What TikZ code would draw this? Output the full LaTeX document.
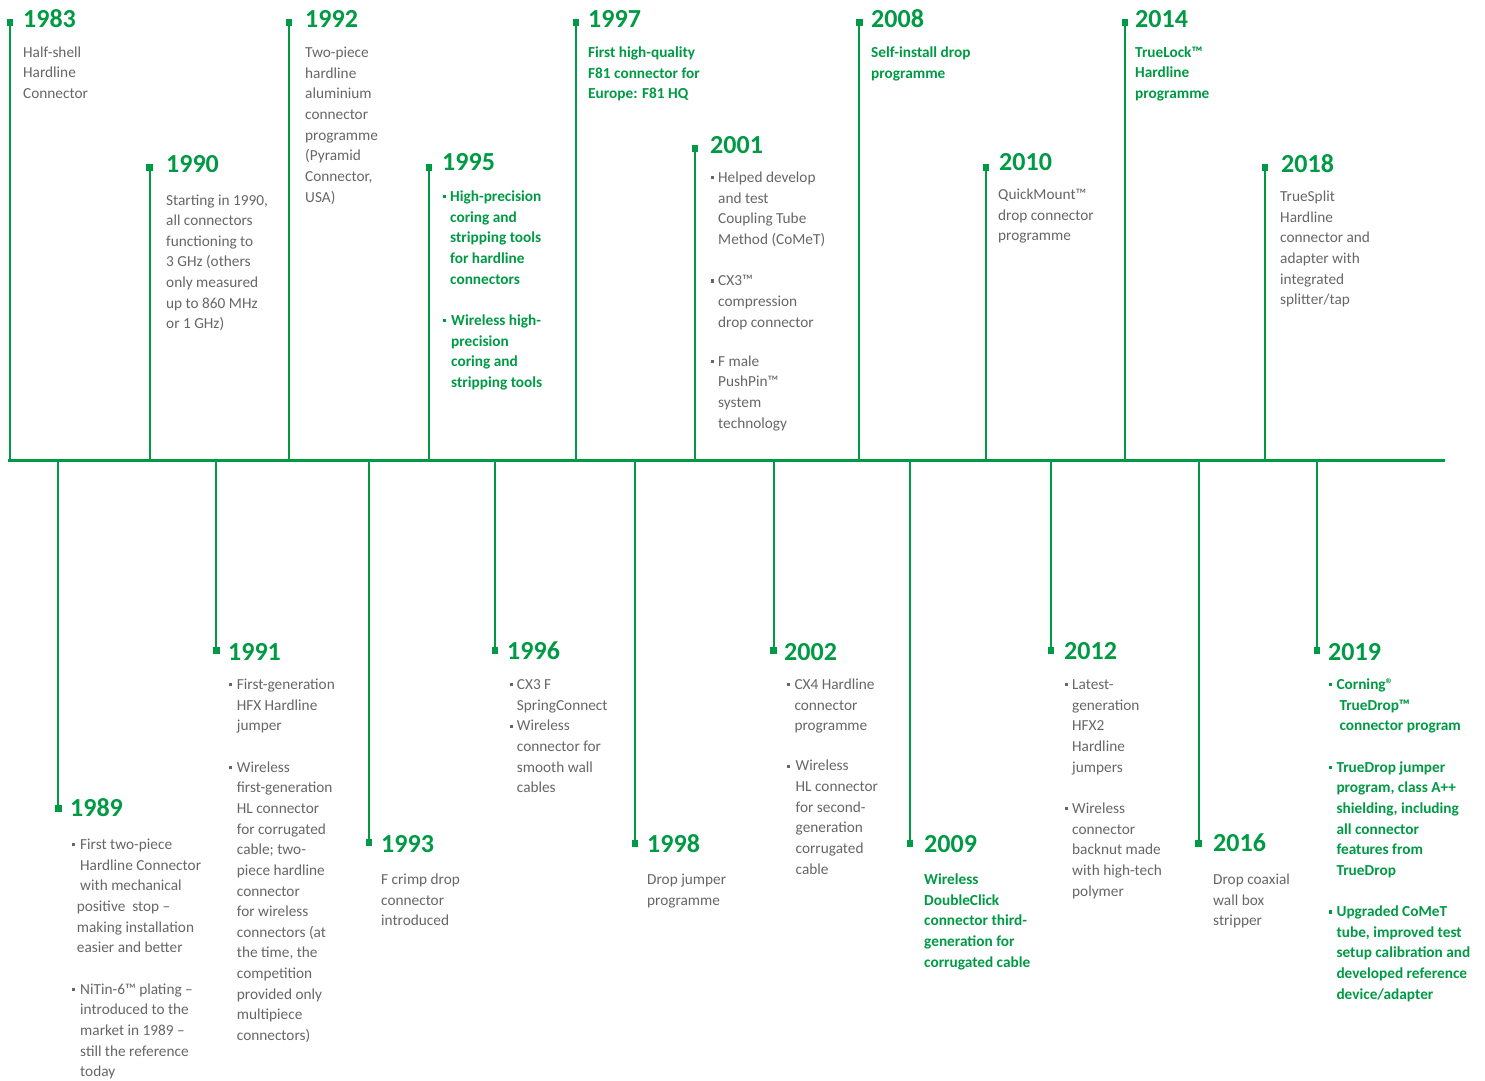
\documentclass[tikz,border=0pt]{standalone}
\usepackage{fontspec}
\setmainfont{Carlito}
\definecolor{cgreen}{RGB}{0,154,68}
\definecolor{cgray}{RGB}{102,102,102}
\newcommand\bodyfont{\fontsize{15.3}{20.65}\selectfont}
\newcommand\bl[1][7.8pt]{\makebox[#1][l]{\rule[3.1pt]{3.2pt}{3.2pt}}}
\newcommand\ind[1][7.8pt]{\hspace*{#1}}
\newcommand\tl[1]{\parbox[t]{240pt}{\raggedright #1}}
\tikzset{
  mainline/.style={line width=3.6pt, draw=cgreen},
  stem/.style={line width=1.8pt, draw=cgreen},
  marker/.style={rectangle, fill=cgreen, draw=none, minimum size=6.6pt, inner sep=0pt, outer sep=0pt},
  year/.style={anchor=base west, inner sep=0pt, text=cgreen, font=\fontsize{26}{30}\selectfont\bfseries},
  body/.style={anchor=base west, inner sep=0pt, text=cgray, font=\bodyfont},
  gbody/.style={anchor=base west, inner sep=0pt, text=cgreen, font=\bodyfont\bfseries},
}
\begin{document}
\begin{tikzpicture}[x=1pt,y=-1pt]
\useasboundingbox (0,0) rectangle (1485,1080);
% main line
\coordinate (L) at (8,460.5);
\coordinate (R) at (1445,460.5);
% ---------- markers ----------
% top
\node[marker] (m1983) at (10,22.3) {};
\node[marker] (m1990) at (149.7,167.5) {};
\node[marker] (m1992) at (289,22.3) {};
\node[marker] (m1995) at (429,167.5) {};
\node[marker] (m1997) at (576,22.3) {};
\node[marker] (m2001) at (695,148.3) {};
\node[marker] (m2008) at (859.3,22.3) {};
\node[marker] (m2010) at (986,167.5) {};
\node[marker] (m2014) at (1125,22.3) {};
\node[marker] (m2018) at (1265,167.5) {};
% bottom
\node[marker] (m1989) at (58.3,808.3) {};
\node[marker] (m1991) at (216.3,650.3) {};
\node[marker] (m1993) at (369,842.7) {};
\node[marker] (m1996) at (495,650.5) {};
\node[marker] (m1998) at (635,843.3) {};
\node[marker] (m2002) at (773.7,650.5) {};
\node[marker] (m2009) at (910,843.5) {};
\node[marker] (m2012) at (1051,650.5) {};
\node[marker] (m2016) at (1198.7,843.3) {};
\node[marker] (m2019) at (1317,650.5) {};
% stems
\foreach \n in {1983,1990,1992,1995,1997,2001,2008,2010,2014,2018,1989,1991,1993,1996,1998,2002,2009,2012,2016,2019}
  \draw[stem] (m\n.center) -- (m\n.center |- L);
\draw[mainline] (L) -- (R);
% ---------- years ----------
\node[year] (y1983) at (23,27) {1983};
\node[year] (y1990) at (166,172.5) {1990};
\node[year] (y1992) at (305,27) {1992};
\node[year] (y1995) at (442,170) {1995};
\node[year] (y1997) at (588,27) {1997};
\node[year] (y2001) at (710,153) {2001};
\node[year] (y2008) at (871,27) {2008};
\node[year] (y2010) at (999,170) {2010};
\node[year] (y2014) at (1135,27) {2014};
\node[year] (y2018) at (1281,172) {2018};
\node[year] (y1989) at (70,816.5) {1989};
\node[year] (y1991) at (228,660) {1991};
\node[year] (y1993) at (381,852) {1993};
\node[year] (y1996) at (507,659.5) {1996};
\node[year] (y1998) at (647,852) {1998};
\node[year] (y2002) at (784,660) {2002};
\node[year] (y2009) at (924,852.5) {2009};
\node[year] (y2012) at (1064,659.5) {2012};
\node[year] (y2016) at (1213,851.7) {2016};
\node[year] (y2019) at (1328,660) {2019};
% ---------- texts, top ----------
\node[body] (t1983) at (23,57) {\tl{Half-shell\\Hardline\\Connector}};
\node[body] (t1990) at (166,205) {\tl{Starting in 1990,\\all connectors\\functioning to\\3 GHz (others\\only measured\\up to 860 MHz\\or 1 GHz)}};
\node[body] (t1992) at (305,57.5) {\tl{Two-piece\\hardline\\aluminium\\connector\\programme\\(Pyramid\\Connector,\\USA)}};
\node[gbody] (t1995) at (442.5,201.5) {\tl{\bl[7.5pt]High-precision\\\ind[7.5pt]coring and\\\ind[7.5pt]stripping tools\\\ind[7.5pt]for hardline\\\ind[7.5pt]connectors\\[20.65pt]\bl[8.5pt]Wireless high-\\\ind[8.5pt]precision\\\ind[8.5pt]coring and\\\ind[8.5pt]stripping tools}};
\node[gbody] (t1997) at (588,57.5) {\tl{First high-quality\\F81 connector for\\Europe: F81 HQ}};
\node[body] (t2001) at (710.5,182.5) {\tl{\bl[7.5pt]Helped develop\\\ind[7.5pt]and test\\\ind[7.5pt]Coupling Tube\\\ind[7.5pt]Method (CoMeT)\\[20.65pt]\bl[7.5pt]CX3™\\\ind[7.5pt]compression\\\ind[7.5pt]drop connector\\[18.5pt]\bl[7.5pt]F male\\\ind[7.5pt]PushPin™\\\ind[7.5pt]system\\\ind[7.5pt]technology}};
\node[gbody] (t2008) at (871,57.5) {\tl{Self-install drop\\programme}};
\node[body] (t2010) at (998,199.5) {\tl{QuickMount™\\drop connector\\programme}};
\node[gbody] (t2014) at (1135,57) {\tl{TrueLock™\\Hardline\\programme}};
\node[body] (t2018) at (1280,201.5) {\tl{TrueSplit\\Hardline\\connector and\\adapter with\\integrated\\splitter/tap}};
% ---------- texts, bottom ----------
\node[body] (t1989) at (72,849.5) {\tl{\bl[8pt]First two-piece\\\ind[8pt]Hardline Connector\\\ind[8pt]with mechanical\\\ind[4.7pt]positive\ \ stop –\\\ind[4.7pt]making installation\\\ind[4.7pt]easier and better\\[20.65pt]\bl[8pt]NiTin-6™ plating –\\\ind[8pt]introduced to the\\\ind[8pt]market in 1989 –\\\ind[8pt]still the reference\\\ind[8pt]today}};
\node[body] (t1991) at (228.7,689.5) {\tl{\bl[8pt]First-generation\\\ind[8pt]HFX Hardline\\\ind[8pt]jumper\\[20.65pt]\bl[8pt]Wireless\\\ind[8pt]first-generation\\\ind[8pt]HL connector\\\ind[8pt]for corrugated\\\ind[8pt]cable; two-\\\ind[8pt]piece hardline\\\ind[8pt]connector\\\ind[8pt]for wireless\\\ind[8pt]connectors (at\\\ind[8pt]the time, the\\\ind[8pt]competition\\\ind[8pt]provided only\\\ind[8pt]multipiece\\\ind[8pt]connectors)}};
\node[body] (t1993) at (381,884.5) {\tl{F crimp drop\\connector\\introduced}};
\node[body] (t1996) at (509.3,689.5) {\tl{\bl[7.4pt]CX3 F\\\ind[7.4pt]SpringConnect\\\bl[7.4pt]Wireless\\\ind[7.4pt]connector for\\\ind[7.4pt]smooth wall\\\ind[7.4pt]cables}};
\node[body] (t1998) at (647,884.5) {\tl{Drop jumper\\programme}};
\node[body] (t2002) at (787,689.5) {\tl{\bl[7.3pt]CX4 Hardline\\\ind[7.3pt]connector\\\ind[7.3pt]programme\\[19.5pt]\bl[8.5pt]Wireless\\\ind[8.5pt]HL connector\\\ind[8.5pt]for second-\\\ind[8.5pt]generation\\\ind[8.5pt]corrugated\\\ind[8.5pt]cable}};
\node[gbody] (t2009) at (924,884.5) {\tl{Wireless\\DoubleClick\\connector third-\\generation for\\corrugated cable}};
\node[body] (t2012) at (1064.5,689.5) {\tl{\bl[7.5pt]Latest-\\\ind[7.5pt]generation\\\ind[7.5pt]HFX2\\\ind[7.5pt]Hardline\\\ind[7.5pt]jumpers\\[20.65pt]\bl[7.5pt]Wireless\\\ind[7.5pt]connector\\\ind[7.5pt]backnut made\\\ind[7.5pt]with high-tech\\\ind[7.5pt]polymer}};
\node[body] (t2016) at (1213,884.5) {\tl{Drop coaxial\\wall box\\stripper}};
\node[gbody] (t2019) at (1328.5,689.5) {\tl{\bl[7.8pt]Corning®\\\ind[10.8pt]TrueDrop™\\\ind[10.8pt]connector program\\[20.65pt]\bl[7.8pt]TrueDrop jumper\\\ind[7.8pt]program, class A++\\\ind[7.8pt]shielding, including\\\ind[7.8pt]all connector\\\ind[7.8pt]features from\\\ind[7.8pt]TrueDrop\\[20.65pt]\bl[7.8pt]Upgraded CoMeT\\\ind[7.8pt]tube, improved test\\\ind[7.8pt]setup calibration and\\\ind[7.8pt]developed reference\\\ind[7.8pt]device/adapter}};
\end{tikzpicture}
\end{document}
